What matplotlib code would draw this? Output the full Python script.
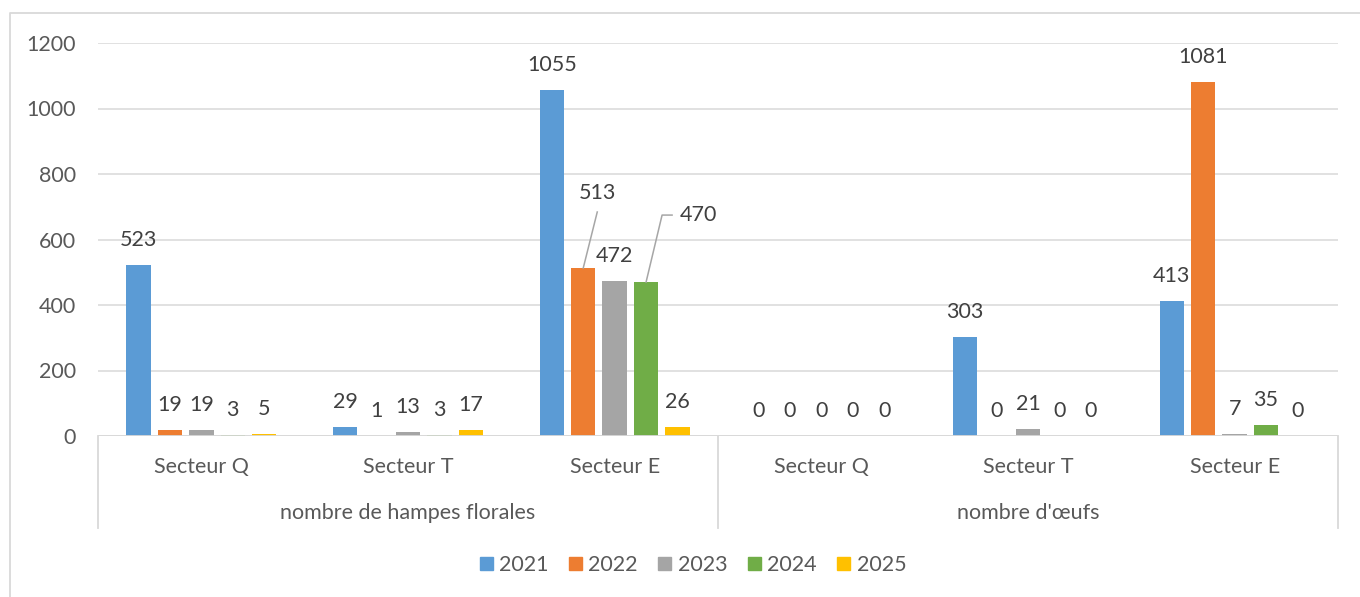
import numpy as np
import matplotlib
matplotlib.use("Agg")
import matplotlib.pyplot as plt
import matplotlib.patches as mpatches
from matplotlib.lines import Line2D

# ── data ──────────────────────────────────────────────────────────────────────
years = ["2021", "2022", "2023", "2024", "2025"]
groups = ["nombre de hampes florales", "nombre d'œufs"]
sectors = ["Secteur Q", "Secteur T", "Secteur E"]

hampes = {
    "Secteur Q": [523, 19, 19, 3, 5],
    "Secteur T": [29, 1, 13, 3, 17],
    "Secteur E": [1055, 513, 472, 470, 26],
}
oeufs = {
    "Secteur Q": [0, 0, 0, 0, 0],
    "Secteur T": [303, 0, 21, 0, 0],
    "Secteur E": [413, 1081, 7, 35, 0],
}

colors = ["#5B9BD5", "#ED7D31", "#A5A5A5", "#70AD47", "#FFC000"]
TXT = "#595959"
LBL = "#404040"
GRID = "#D9D9D9"
FS = 15.5

plt.rcParams["font.family"] = ["Lato", "DejaVu Sans"]

# values per year across the 6 categories
values = np.array([hampes[s] for s in sectors] + [oeufs[s] for s in sectors]).T
ncat = values.shape[1]

W, H = 1360, 597
fig = plt.figure(figsize=(W / 100, H / 100), dpi=100)
ax = fig.add_axes([98 / W, (H - 436) / H, 1240 / W, 393 / H])

step, bw = 0.152, 0.118
x = np.arange(ncat)
for j, yr in enumerate(years):
    ax.bar(x + (j - 2) * step, values[j], width=bw, color=colors[j], zorder=3)

ax.set_xlim(-0.5, ncat - 0.5)
ax.set_ylim(0, 1200)
ax.set_yticks(np.arange(0, 1201, 200))
ax.tick_params(axis="y", length=0, pad=16, labelsize=FS, labelcolor=TXT)
ax.set_xticks([])
ax.grid(axis="y", color=GRID, linewidth=1.1, zorder=0)
for sp in ax.spines.values():
    sp.set_visible(False)
ax.axhline(0, color=GRID, linewidth=1.3, zorder=4)

# data labels
special = {(1, 2): (10, 54), (3, 2): (38, 48)}   # (year, cat) -> offset in points
for j in range(len(years)):
    for i in range(ncat):
        v = values[j, i]
        xi = x[i] + (j - 2) * step
        dx, dy = special.get((j, i), (0, 18))
        ax.annotate(str(v), (xi, v), xytext=(dx, dy), textcoords="offset points",
                    ha="center", va="center", fontsize=FS, color=LBL)

# leader lines (pixel offsets from bar top)
fig.canvas.draw()
def leader(j, i, pts):
    xi = x[i] + (j - 2) * step
    bx, by = ax.transData.transform((xi, values[j, i]))
    xs = [bx + p[0] for p in pts]
    ys = [by + p[1] for p in pts]
    fig.lines.append(Line2D(xs, ys, transform=None, color="#A6A6A6", lw=1.1))

leader(1, 2, [(0, 0), (14, 56)])
leader(3, 2, [(0, 0), (16, 67), (26, 67)])

# multi-level category axis
xt = ax.get_xaxis_transform()
for xb in [-0.5, 2.5, 5.5]:
    ax.plot([xb, xb], [0, -0.234], transform=xt, color=GRID, lw=1.3, clip_on=False)
for i in range(ncat):
    ax.text(x[i], -0.079, sectors[i % 3], transform=xt, ha="center", va="center",
            fontsize=FS, color=TXT)
for g, name in enumerate(groups):
    ax.text(1 + 3 * g, -0.196, name, transform=xt, ha="center", va="center",
            fontsize=FS, color=TXT)

# legend
handles = [mpatches.Patch(color=c, label=y) for c, y in zip(colors, years)]
fig.legend(handles=handles, loc="center", bbox_to_anchor=(693 / W, (H - 565) / H),
           ncol=5, frameon=False, fontsize=FS, labelcolor=TXT,
           handlelength=0.6, handleheight=0.6, handletextpad=0.3,
           columnspacing=0.95)

# chart area border (left and top visible)
fig.lines.append(Line2D([10 / W, 10 / W, 1.0], [0.0, 1 - 13 / H, 1 - 13 / H],
                        transform=fig.transFigure, color=GRID, lw=1.3))

fig.savefig("out.png", dpi=100, facecolor="white")
